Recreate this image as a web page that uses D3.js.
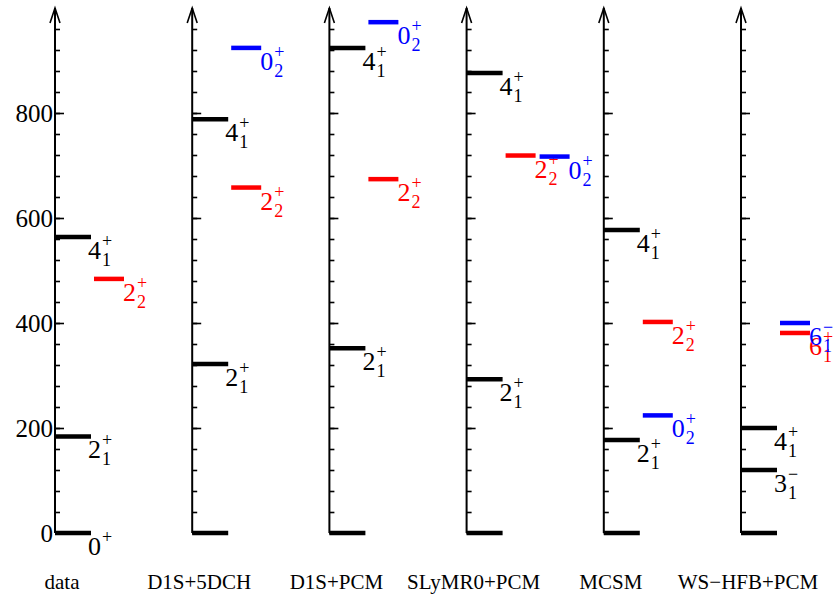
<!DOCTYPE html>
<html>
<head>
<meta charset="utf-8">
<script src="https://cdn.jsdelivr.net/npm/d3@7"></script>
<style>
  html, body { margin: 0; padding: 0; background: #fff; }
  svg { display: block; }
</style>
</head>
<body>
<script>
// ---------- data ----------
const categories = ["data", "D1S+5DCH", "D1S+PCM", "SLyMR0+PCM", "MCSM", "WS\u2212HFB+PCM"];
const majorTicks = [0, 200, 400, 600, 800];
const minorTicks = [0, 40, 80, 120, 160, 200, 240, 280, 320, 360, 400, 440, 480, 520, 560, 600, 640, 680, 720, 760, 800, 840, 880, 920, 960];
const axisMax = 1000;

// yrast-type levels (black)
const blackLevels = [
  { model: "data", E: 0, J: "0", n: "", p: "+" },
  { model: "data", E: 184, J: "2", n: "1", p: "+" },
  { model: "data", E: 564, J: "4", n: "1", p: "+" },
  { model: "D1S+5DCH", E: 0 },
  { model: "D1S+5DCH", E: 322, J: "2", n: "1", p: "+" },
  { model: "D1S+5DCH", E: 788, J: "4", n: "1", p: "+" },
  { model: "D1S+PCM", E: 0 },
  { model: "D1S+PCM", E: 352, J: "2", n: "1", p: "+" },
  { model: "D1S+PCM", E: 924, J: "4", n: "1", p: "+" },
  { model: "SLyMR0+PCM", E: 0 },
  { model: "SLyMR0+PCM", E: 293, J: "2", n: "1", p: "+" },
  { model: "SLyMR0+PCM", E: 876, J: "4", n: "1", p: "+" },
  { model: "MCSM", E: 0 },
  { model: "MCSM", E: 177, J: "2", n: "1", p: "+" },
  { model: "MCSM", E: 577, J: "4", n: "1", p: "+" },
  { model: "WS\u2212HFB+PCM", E: 0 },
  { model: "WS\u2212HFB+PCM", E: 120, J: "3", n: "1", p: "\u2212" },
  { model: "WS\u2212HFB+PCM", E: 200, J: "4", n: "1", p: "+" }
];
// second-band levels (red)
const redLevels = [
  { model: "data", E: 484, J: "2", n: "2", p: "+" },
  { model: "D1S+5DCH", E: 658, J: "2", n: "2", p: "+" },
  { model: "D1S+PCM", E: 674, J: "2", n: "2", p: "+" },
  { model: "SLyMR0+PCM", E: 719, J: "2", n: "2", p: "+" },
  { model: "MCSM", E: 402, J: "2", n: "2", p: "+" },
  { model: "WS\u2212HFB+PCM", E: 381, J: "6", n: "1", p: "+" }
];
// third-band levels (blue)
const blueLevels = [
  { model: "D1S+5DCH", E: 924, J: "0", n: "2", p: "+" },
  { model: "D1S+PCM", E: 973, J: "0", n: "2", p: "+" },
  { model: "SLyMR0+PCM", E: 717, J: "0", n: "2", p: "+" },
  { model: "MCSM", E: 224, J: "0", n: "2", p: "+" },
  { model: "WS\u2212HFB+PCM", E: 400, J: "6", n: "1", p: "\u2212" }
];

// ---------- layout ----------
const FONT = "'Liberation Serif', 'Times New Roman', Tinos, 'DejaVu Serif', serif";
const W = 840, H = 598;
const svg = d3.select("body").append("svg").attr("width", W).attr("height", H)
  .attr("font-family", FONT);

const x = d3.scalePoint().domain(categories).range([55, 741]);
const y = d3.scaleLinear().domain([0, axisMax]).range([533, 8]);

const barW = 36;        // black bar length
const slot2 = [39, 69]; // red / blue offset from axis
const slot3 = [73, 103];

// axes
categories.forEach((c, i) => {
  const g = svg.append("g").attr("transform", `translate(${x(c)},0)`);
  const minor = g.append("g").call(d3.axisRight(y).tickValues(minorTicks).tickSize(5).tickFormat(""));
  minor.select(".domain").remove();
  minor.selectAll("line").attr("stroke", "#000").attr("stroke-width", 1.6);
  const major = g.append("g").call(d3.axisRight(y).tickValues(majorTicks).tickSize(9).tickFormat(""));
  major.select(".domain").remove();
  major.selectAll("line").attr("stroke", "#000").attr("stroke-width", 1.6);
  g.append("line").attr("x1", 0).attr("x2", 0).attr("y1", y(0)).attr("y2", y(axisMax))
    .attr("stroke", "#000").attr("stroke-width", 2);
  g.append("path")
    .attr("d", `M-5,${y(axisMax) + 15} L0,${y(axisMax)} L5,${y(axisMax) + 15}`)
    .attr("fill", "none").attr("stroke", "#000").attr("stroke-width", 1.6);
  if (i === 0) {
    const lab = g.append("g").call(d3.axisLeft(y).tickValues(majorTicks).tickSize(0).tickPadding(2).tickFormat(d3.format("d")));
    lab.attr("font-family", FONT).attr("font-size", 25);
    lab.select(".domain").remove();
    lab.selectAll("text").attr("fill", "#000").attr("dy", "0.34em");
  }
  svg.append("text").attr("x", x(c) + 7).attr("y", 589).attr("text-anchor", "middle")
    .attr("font-size", 21).attr("fill", "#000").text(c);
});

function drawLabel(lx, by, lev, color) {
  if (lev.J === undefined) return;
  const t = svg.append("text").attr("x", lx).attr("y", by + 22).attr("font-size", 26)
    .attr("fill", color).text(lev.J);
  const w = t.node().getComputedTextLength();
  if (lev.p) svg.append("text").attr("x", lx + w + 1).attr("y", by + 10).attr("font-size", 18)
    .attr("fill", color).text(lev.p);
  if (lev.n) svg.append("text").attr("x", lx + w + 1).attr("y", by + 29).attr("font-size", 18)
    .attr("fill", color).text(lev.n);
}

function drawLevels(levels, color, slotFor) {
  levels.forEach(l => {
    const ax = x(l.model);
    const [a, b] = slotFor(l);
    const by = y(l.E);
    svg.append("line").attr("x1", ax + a).attr("x2", ax + b).attr("y1", by).attr("y2", by)
      .attr("stroke", color).attr("stroke-width", 4.5);
    drawLabel(ax + b - (a === 0 ? 3 : 1), by, l, color);
  });
}

drawLevels(blackLevels, "#000", () => [0, barW]);
drawLevels(redLevels, "#ff0000", () => slot2);
drawLevels(blueLevels, "#0000ff", l => {
  const clash = redLevels.some(r => r.model === l.model && Math.abs(r.E - l.E) < 10);
  return clash ? slot3 : slot2;
});
</script>
</body>
</html>
